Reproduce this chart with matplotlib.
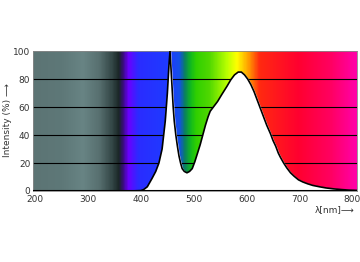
import matplotlib.pyplot as plt
import numpy as np
from matplotlib.colors import LinearSegmentedColormap

# emission spectrum (nm, % intensity)
wavelength = [380, 400, 405, 412, 421, 428, 434, 440, 443, 446, 448, 450, 451.5, 453, 455,
              456.5, 458, 459.5, 461, 463, 466, 469, 472, 475, 478, 482, 487, 492, 497,
              502, 507, 512, 517, 522, 527, 531, 537, 545, 553, 563, 570, 577, 584, 590,
              596, 602, 608, 614, 620, 626, 632, 638, 645, 650, 655, 660, 664, 670, 676,
              683, 690, 698, 706, 715, 725, 738, 750, 765, 780, 795, 809]
intensity = [0, 0.3, 1, 3, 9, 14, 20, 30, 40, 50, 60, 70, 80, 90, 100,
             90, 80, 70, 60, 50, 40, 32, 25, 20, 16, 14, 13, 14, 16,
             21, 27, 33, 40, 47, 53, 57, 60, 64, 69, 75, 79.5, 83, 85, 85,
             83, 80, 76, 71, 65, 59, 53, 47, 41, 36, 32, 27, 24, 20, 16.5,
             13, 10.5, 8, 6.5, 5.2, 4, 3, 2.2, 1.5, 1.0, 0.6, 0.4]

# background colour stops (nm, colour)
bg_nm = [196, 250, 290, 320, 345, 358, 366, 376, 395, 455, 473, 483, 494, 505, 530, 563,
         582, 605, 625, 700, 760, 809]
bg_col = ['#5c7474', '#5e7878', '#688484', '#587070', '#334646', '#1a2626', '#3a0c80',
          '#6a00ff', '#2a2cff', '#1e3cff', '#1450e8', '#0a8060', '#10b820', '#30d000',
          '#50d800', '#b8ff00', '#ffff00', '#ff9a00', '#ff2a10', '#ff0030', '#ff0060',
          '#ff00a8']

xmin, xmax = 196, 809
pos = [(v - xmin) / (xmax - xmin) for v in bg_nm]
cmap = LinearSegmentedColormap.from_list('spec', list(zip(pos, bg_col)))

fig = plt.figure(figsize=(3.6, 2.62), dpi=100)
ax = fig.add_axes([0.092, 0.271, 0.9, 0.534])

grad = np.linspace(0, 1, 600).reshape(1, -1)
ax.imshow(grad, cmap=cmap, extent=[xmin, xmax, 0, 100], aspect='auto', zorder=0)

for y in [20, 40, 60, 80]:
    ax.axhline(y, color='black', lw=0.8, zorder=1)

ax.fill_between(wavelength, intensity, 0, color='white', zorder=2)
ax.plot(wavelength, intensity, color='black', lw=1.2, zorder=3)
ax.axhline(0, color='black', lw=1.5, zorder=4)

ax.set_xlim(xmin, xmax)
ax.set_ylim(0, 100)
ax.set_xticks([200, 300, 400, 500, 600, 700, 800])
ax.set_yticks([0, 20, 40, 60, 80, 100])
ax.tick_params(length=0, labelsize=6.5, labelcolor='#333333')
ax.tick_params(axis='x', pad=3)
ax.tick_params(axis='y', pad=2)
for s in ax.spines.values():
    s.set_color('#888888')
    s.set_linewidth(0.6)

fig.text(0.022, 0.54, 'Intensity (%) \u27f6', rotation=90, ha='center', va='center',
         fontsize=6.5, color='#333333')
fig.text(0.985, 0.2, '\u03bb[nm]\u27f6', ha='right', va='center', fontsize=6.5, color='#333333')

fig.savefig('out.png', dpi=100)
